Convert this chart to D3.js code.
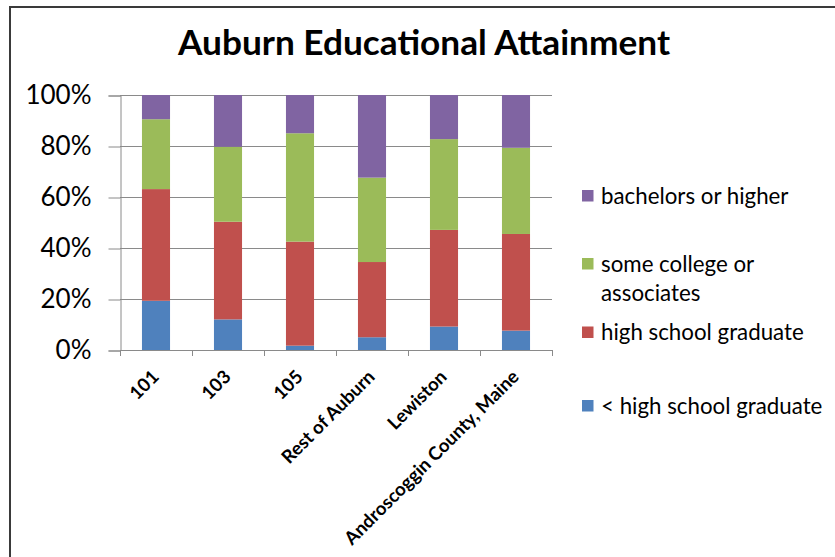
<!DOCTYPE html>
<html>
<head>
<meta charset="utf-8">
<script src="https://cdn.jsdelivr.net/npm/d3@7"></script>
<style>
  html, body { margin: 0; padding: 0; background: #fff; }
  svg { display: block; }
  text { font-family: Lato, "Liberation Sans", sans-serif; fill: #000; }
</style>
</head>
<body>
<svg id="chart" width="835" height="557"></svg>
<script>
// Educational attainment shares (%) per area
const categories = ["101", "103", "105", "Rest of Auburn", "Lewiston", "Androscoggin County, Maine"];
const lessThanHighSchool = [19.3, 12.0, 1.7, 5.0, 9.2, 7.6];
const highSchoolGraduate = [43.8, 38.3, 40.8, 29.5, 37.9, 37.9];
const someCollege = [27.4, 29.4, 42.5, 33.1, 35.6, 33.8];
const bachelorsOrHigher = [9.5, 20.3, 15.0, 32.4, 17.3, 20.7];

const seriesNames = ["< high school graduate", "high school graduate", "some college or associates", "bachelors or higher"];
const seriesKeys = ["lt", "hs", "sc", "ba"];
const seriesColors = ["#4F81BD", "#C0504D", "#9BBB59", "#8064A2"];
const yTicks = [0, 0.2, 0.4, 0.6, 0.8, 1.0];
const title = "Auburn Educational Attainment";

const rows = categories.map((c, i) => ({
  category: c,
  lt: lessThanHighSchool[i],
  hs: highSchoolGraduate[i],
  sc: someCollege[i],
  ba: bachelorsOrHigher[i]
}));

const svg = d3.select("#chart");

// chart frame
svg.append("path")
  .attr("d", "M10,557V7H835")
  .attr("fill", "none")
  .attr("stroke", "#3a3a3a")
  .attr("stroke-width", 2);

// title
svg.append("text")
  .attr("x", 424).attr("y", 55)
  .attr("text-anchor", "middle")
  .style("font-weight", "700")
  .style("font-size", "34px")
  .attr("textLength", 492)
  .attr("lengthAdjust", "spacingAndGlyphs")
  .text(title);

const plot = { left: 120, right: 552, top: 95, bottom: 350 };

const x = d3.scaleBand()
  .domain(categories)
  .range([plot.left, plot.right])
  .paddingInner(0.61)
  .paddingOuter(0.305);

const y = d3.scaleLinear().domain([0, 1]).range([plot.bottom, plot.top]);

const stack = d3.stack().keys(seriesKeys).offset(d3.stackOffsetExpand);
const stacked = stack(rows);

// gridlines
svg.append("g")
  .selectAll("line")
  .data(yTicks.filter(v => v > 0))
  .join("line")
  .attr("x1", plot.left).attr("x2", plot.right)
  .attr("y1", d => Math.round(y(d)) + 0.5).attr("y2", d => Math.round(y(d)) + 0.5)
  .attr("stroke", "#8a8a8a").attr("stroke-width", 1);

// bars
svg.append("g")
  .selectAll("g")
  .data(stacked)
  .join("g")
  .attr("fill", (d, i) => seriesColors[i])
  .selectAll("rect")
  .data(d => d)
  .join("rect")
  .attr("x", d => x(d.data.category))
  .attr("width", x.bandwidth())
  .attr("y", d => y(d[1]))
  .attr("height", d => y(d[0]) - y(d[1]));

// y axis
const yAxis = d3.axisLeft(y)
  .tickValues(yTicks)
  .tickFormat(d3.format(".0%"))
  .tickSize(12)
  .tickPadding(17);
const gy = svg.append("g")
  .attr("transform", `translate(${plot.left + 0.5},0.5)`)
  .call(yAxis);
gy.select(".domain").attr("stroke", "#8a8a8a");
gy.selectAll(".tick line").attr("stroke", "#8a8a8a");
gy.selectAll(".tick text")
  .style("font-family", "Lato, 'Liberation Sans', sans-serif")
  .style("font-size", "26px")
  .attr("fill", "#000");

// x axis: line with boundary ticks
const gx = svg.append("g");
gx.append("line")
  .attr("x1", plot.left).attr("x2", plot.right + 1)
  .attr("y1", plot.bottom + 0.5).attr("y2", plot.bottom + 0.5)
  .attr("stroke", "#8a8a8a");
const step = x.step();
const boundaries = d3.range(categories.length + 1).map(i => plot.left + i * step);
gx.selectAll("line.tk")
  .data(boundaries)
  .join("line")
  .attr("class", "tk")
  .attr("x1", d => Math.round(d) + 0.5).attr("x2", d => Math.round(d) + 0.5)
  .attr("y1", plot.bottom).attr("y2", plot.bottom + 6)
  .attr("stroke", "#8a8a8a");

gx.selectAll("text")
  .data(categories)
  .join("text")
  .attr("text-anchor", "end")
  .attr("transform", d => `translate(${x(d) + x.bandwidth() / 2 + 4},378) rotate(-45)`)
  .style("font-weight", "700")
  .style("font-size", "18.5px")
  .text(d => d);

// legend
const legendItems = [
  { i: 3, lines: ["bachelors or higher"], cy: 196 },
  { i: 2, lines: ["some college or", "associates"], cy: 264 },
  { i: 1, lines: ["high school graduate"], cy: 332.5 },
  { i: 0, lines: ["< high school graduate"], cy: 406 }
];
const lg = svg.append("g");
legendItems.forEach(item => {
  lg.append("rect")
    .attr("x", 582).attr("y", item.cy - 6)
    .attr("width", 11.5).attr("height", 11.5)
    .attr("fill", seriesColors[item.i]);
  item.lines.forEach((ln, k) => {
    lg.append("text")
      .attr("x", 601)
      .attr("y", item.cy + k * 29)
      .attr("dy", "0.35em")
      .style("font-size", "22.3px")
      .text(ln);
  });
});
</script>
</body>
</html>
